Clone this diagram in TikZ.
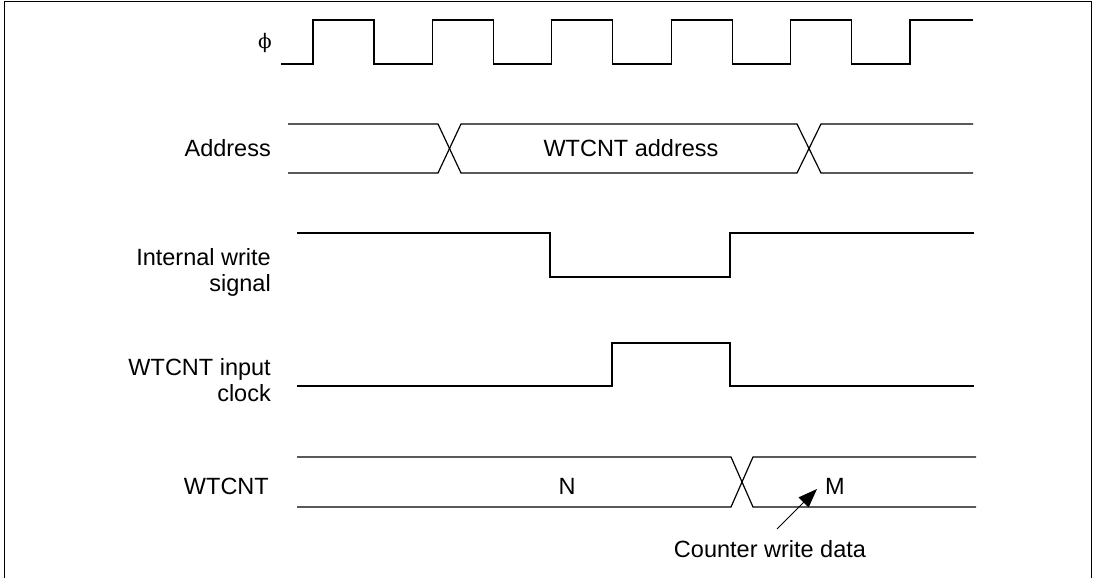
\documentclass[tikz,border=0pt]{standalone}
\usepackage{fontspec}
\setmainfont{Liberation Sans}
\newfontfamily\greekfont{DejaVu Serif}
\usepackage{tikz}
\usetikzlibrary{arrows.meta, positioning, calc}

\begin{document}
\begin{tikzpicture}[x=1pt, y=-1pt,
    sig/.style={line width=1.2pt, line join=miter},
    lbl/.style={font=\fontsize{23.5}{26}\selectfont, inner sep=0pt},
    side/.style={lbl, anchor=east, align=right}]
  \useasboundingbox (0,0) rectangle (1098,578);

  % Frame
  \draw[line width=1pt] (4,578) -- (4,2) -- (1091,2) -- (1091,578);

  % Clock
  \node[lbl, font=\fontsize{20}{22}\greekfont] (phi) at (265,43) {ϕ};
  \draw[sig] (281,64) -- (313,64)
    foreach \k in {0,...,4} { -- ++(0,-44) -- ++(61,0) -- ++(0,44) -- ++(58.4,0) }
    -- ++(0,-44) -- (973,20);

  % Address
  \node[side] (addr) at (271,148) {Address};
  \draw[sig] (288,124) -- (438,124) -- (461,173) -- (797,173) -- (821,124) -- (973,124);
  \draw[sig] (288,173) -- (438,173) -- (461,124) -- (797,124) -- (821,173) -- (973,173);
  \node[lbl] (addrval) at (631,148) {WTCNT address};

  % Internal write signal
  \node[side] (wr) at (271,272) {Internal write\\signal};
  \draw[sig] (297,233) -- (550,233) -- (550,277) -- (730,277) -- (730,233) -- (974,233);

  % WTCNT input clock
  \node[side] (inclk) at (271,380) {WTCNT input\\clock};
  \draw[sig] (297,386) -- (612,386) -- (612,343) -- (730,343) -- (730,386) -- (974,386);

  % WTCNT
  \node[side] (cnt) at (269,486) {WTCNT};
  \draw[sig] (297,457) -- (731,457) -- (753,507) -- (976,507);
  \draw[sig] (297,507) -- (731,507) -- (753,457) -- (976,457);
  \node[lbl] (nval) at (567,486) {N};
  \node[lbl] (mval) at (835,486) {M};

  % Counter write data
  \node[lbl] (cwd) at (770,549) {Counter write data};
  \coordinate (wtail) at (777,529);
  \coordinate (wtip) at (817,489);
  \draw[line width=1pt, -{Triangle[length=19pt, width=14pt]}] (wtail) -- (wtip);
\end{tikzpicture}
\end{document}
